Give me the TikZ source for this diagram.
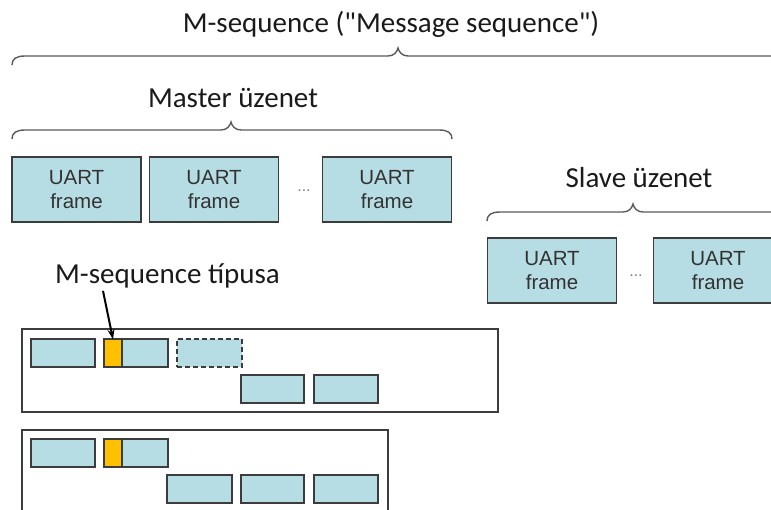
\documentclass[tikz,border=0pt]{standalone}
\usepackage{fontspec}
\newfontfamily\calibfont{Carlito}
\newfontfamily\arialfont{Liberation Sans}
\usetikzlibrary{arrows.meta}

\definecolor{framefill}{HTML}{B7DDE4}
\definecolor{frameline}{HTML}{3C3C3C}
\definecolor{typefill}{HTML}{FFC000}
\definecolor{bracegray}{HTML}{5A5A5A}
\definecolor{textdark}{HTML}{1A1A1A}
\definecolor{uarttext}{HTML}{333333}

% Office-style curly brace: #1 left x, #2 right x, #3 tip x, #4 y of the bar
\newcommand{\officebrace}[4]{%
  \draw[bracestyle] (#1,#4+9) .. controls (#1,#4+3) and (#1+4,#4) .. (#1+13,#4)
    -- (#3-10,#4) .. controls (#3-4,#4) and (#3-1,#4-4) .. (#3,#4-8)
    .. controls (#3+1,#4-4) and (#3+4,#4) .. (#3+10,#4)
    -- (#2-13,#4) .. controls (#2-4,#4) and (#2,#4+3) .. (#2,#4+9);}

\begin{document}
\begin{tikzpicture}[x=1pt,y=-1pt,
  bracestyle/.style={draw=bracegray,line width=1.4pt},
  heading/.style={font=\calibfont\fontsize{29}{34}\selectfont,text=textdark,inner sep=0pt},
  uart/.style={draw=frameline,fill=framefill,line width=1.3pt,
    minimum width=129pt,minimum height=65pt,inner sep=0pt,align=center,
    text=uarttext,font=\arialfont\fontsize{20.5}{24}\selectfont},
  dotsep/.style={text=gray,font=\arialfont\fontsize{16}{18}\selectfont,inner sep=0pt},
  slot/.style={draw=frameline,fill=framefill,line width=1.3pt,
    minimum width=64pt,minimum height=28pt,inner sep=0pt},
  typeslot/.style={draw=frameline,fill=typefill,line width=1.3pt,
    minimum width=18pt,minimum height=28pt,inner sep=0pt},
  ghostslot/.style={slot,dash pattern=on 5pt off 3pt},
  seqframe/.style={draw=frameline,line width=1.2pt},
  pointer/.style={draw=black,line width=2pt,-{Stealth[length=10pt,width=7pt]}}]

\useasboundingbox (0,0) rectangle (771,509);
\clip (0,0) rectangle (771,509);

% Headings
\node[heading,anchor=base] (title) at (391,32) {M-sequence ("Message sequence")};
\node[heading,anchor=base] (mhead) at (233,107) {Master üzenet};
\node[heading,anchor=base] (shead) at (639,187) {Slave üzenet};

% Braces
\officebrace{12}{795}{398}{56}
\officebrace{12}{452}{231}{130}
\officebrace{487}{795}{633}{212}

% Master message frames
\node[uart] (m1) at (76.5,189.5) {UART\\frame};
\node[uart] (m2) at (214,189.5) {UART\\frame};
\node[dotsep] (mdots) at (304,191) {...};
\node[uart] (m3) at (387,189.5) {UART\\frame};

% Slave message frames
\node[uart] (s1) at (552,270.5) {UART\\frame};
\node[dotsep] (sdots) at (636,276) {...};
\node[uart] (s2) at (718,270.5) {UART\\frame};

% Label for the M-sequence type field
\node[heading,anchor=base west] (typelabel) at (55,283) {M-sequence típusa};

% First sequence variant
\draw[seqframe] (22,329) rectangle (498,412);
\node[slot] (a1) at (63,353) {};
\node[typeslot] (t1) at (113,353) {};
\node[slot,minimum width=46pt] (b1) at (145,353) {};
\node[ghostslot,minimum width=65pt] (g1) at (209.5,353) {};
\node[slot,minimum width=63pt] (c1) at (272.5,389) {};
\node[slot] (d1) at (346,389) {};

% Second sequence variant
\draw[seqframe] (388,520) -- (388,430) -- (22,430) -- (22,520);
\node[slot] (a2) at (63,453) {};
\node[typeslot] (t2) at (113,453) {};
\node[slot,minimum width=46pt] (b2) at (145,453) {};
\node[slot,minimum width=65pt] (c2) at (199.5,489) {};
\node[slot,minimum width=63pt] (d2) at (272.5,489) {};
\node[slot] (e2) at (346,489) {};

% Pointer to the type field
\draw[pointer] ([xshift=48pt,yshift=-3pt]typelabel.south west) -- ([yshift=-1pt]t1.north);

\end{tikzpicture}
\end{document}
